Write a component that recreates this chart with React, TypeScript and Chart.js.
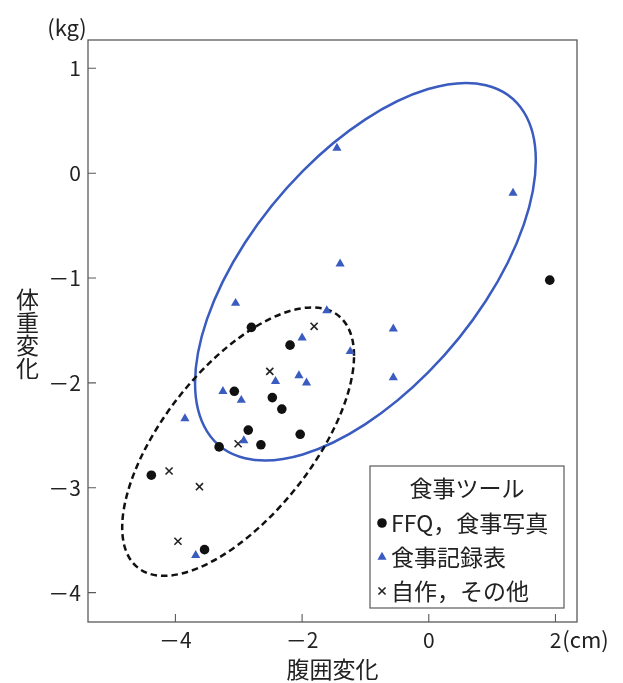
import React, { useEffect, useRef } from "react";
import { Chart, registerables } from "chart.js";
import { drawPoint } from "chart.js/helpers";

Chart.register(...registerables);

const FONT = '"Noto Sans CJK JP", "Noto Sans", sans-serif';
const BLUE = "#3a5bbf";
const INK = "#222222";
const FRAME = "#5a5a5a";

// ---- data ----
const legendTitle = "食事ツール";
const seriesLabels = ["FFQ，食事写真", "食事記録表", "自作，その他"];

const ffqX = [1.91, -2.8, -2.19, -3.07, -2.47, -2.32, -2.85, -2.65, -2.03, -3.31, -4.38, -3.54];
const ffqY = [-1.02, -1.47, -1.64, -2.08, -2.14, -2.25, -2.45, -2.59, -2.49, -2.61, -2.88, -3.59];

const recordX = [-1.45, 1.33, -1.4, -3.05, -1.61, -0.56, -2.0, -1.24, -0.56, -2.05, -1.93, -2.42, -3.25, -2.96, -3.85, -2.92, -3.68];
const recordY = [0.24, -0.19, -0.865, -1.24, -1.31, -1.485, -1.57, -1.7, -1.95, -1.93, -2.0, -1.985, -2.08, -2.165, -2.34, -2.55, -3.645];

const otherX = [-1.81, -2.51, -3.01, -4.1, -3.62, -3.96];
const otherY = [-1.46, -1.89, -2.58, -2.84, -2.99, -3.51];

const xTickValues = [-4, -2, 0, 2];
const yTickValues = [-4, -3, -2, -1, 0, 1];
const xRange = [-5.38, 2.34];
const yRange = [-4.28, 1.27];

const xTitle = "腹囲変化";
const yTitle = "体重変化";
const xUnit = "(cm)";
const yUnit = "(kg)";

// ellipses in data units: centre, half-extent along x, half-extent along y, correlation
const recordEllipse = { cx: -1.0, cy: -0.94, rx: 2.69, ry: 1.8, rho: 0.59 };
const ffqEllipse = { cx: -3.01, cy: -2.56, rx: 1.83, ry: 1.28, rho: 0.64 };

const toPoints = (xs: number[], ys: number[]) => xs.map((x, i) => ({ x, y: ys[i] }));
const tickLabel = (v: number) => (v < 0 ? "－" + Math.abs(v) : String(v));

function strokeEllipse(chart: any, e: any, color: string, dash: number[]) {
  const { ctx, scales } = chart;
  const xs = scales.x;
  const ys = scales.y;
  const cx = xs.getPixelForValue(e.cx);
  const cy = ys.getPixelForValue(e.cy);
  const sx = xs.getPixelForValue(e.cx + e.rx) - cx;
  const sy = ys.getPixelForValue(e.cy + e.ry) - cy;
  ctx.save();
  ctx.beginPath();
  ctx.save();
  ctx.translate(cx, cy);
  ctx.transform(sx, sy * e.rho, 0, sy * Math.sqrt(1 - e.rho * e.rho), 0, 0);
  ctx.arc(0, 0, 1, 0, Math.PI * 2);
  ctx.restore();
  ctx.strokeStyle = color;
  ctx.lineWidth = 2.5;
  ctx.setLineDash(dash);
  ctx.stroke();
  ctx.restore();
}

const decorPlugin = {
  id: "decor",
  beforeDatasetsDraw(chart: any) {
    const { ctx, chartArea: a, scales } = chart;
    const xs = scales.x;
    const ys = scales.y;
    ctx.save();
    ctx.strokeStyle = FRAME;
    ctx.lineWidth = 1.3;
    ctx.strokeRect(a.left, a.top, a.right - a.left, a.bottom - a.top);
    ctx.lineWidth = 1.1;
    ctx.beginPath();
    xs.ticks.forEach((t: any) => {
      const px = xs.getPixelForValue(t.value);
      ctx.moveTo(px, a.bottom);
      ctx.lineTo(px, a.bottom - 8);
    });
    ys.ticks.forEach((t: any) => {
      const py = ys.getPixelForValue(t.value);
      ctx.moveTo(a.left, py);
      ctx.lineTo(a.left + 8, py);
    });
    ctx.stroke();
    ctx.restore();

    strokeEllipse(chart, recordEllipse, BLUE, []);
    strokeEllipse(chart, ffqEllipse, "#111111", [6.5, 4]);
  },
  afterDatasetsDraw(chart: any) {
    const { ctx, chartArea: a } = chart;
    const datasets = chart.data.datasets;
    const bw = 194;
    const bh = 142;
    const bx = a.right - 13 - bw;
    const by = a.bottom - 14 - bh;
    ctx.save();
    ctx.fillStyle = "#ffffff";
    ctx.fillRect(bx, by, bw, bh);
    ctx.strokeStyle = FRAME;
    ctx.lineWidth = 1.2;
    ctx.strokeRect(bx, by, bw, bh);
    ctx.font = `23px ${FONT}`;
    ctx.textBaseline = "middle";
    ctx.textAlign = "center";
    ctx.fillStyle = INK;
    ctx.fillText(legendTitle, bx + bw / 2, by + 22);
    datasets.forEach((ds: any, i: number) => {
      const yy = by + 57 + i * 34;
      ctx.fillStyle = ds.backgroundColor;
      ctx.strokeStyle = ds.borderColor;
      ctx.lineWidth = ds.borderWidth;
      drawPoint(
        ctx,
        { pointStyle: ds.pointStyle, radius: ds.pointRadius, borderWidth: ds.borderWidth, rotation: 0 } as any,
        bx + 12,
        yy
      );
      ctx.fillStyle = INK;
      ctx.textAlign = "left";
      ctx.fillText(ds.label, bx + 21, yy);
    });
    ctx.restore();
  },
  afterDraw(chart: any) {
    const { ctx, scales } = chart;
    ctx.save();
    ctx.fillStyle = INK;
    ctx.textBaseline = "middle";
    // vertical y title
    ctx.font = `23px ${FONT}`;
    ctx.textAlign = "center";
    Array.from(yTitle).forEach((ch, i) => {
      ctx.fillText(ch, 27.5, 299 + i * 23);
    });
    // units
    ctx.font = `22px ${FONT}`;
    ctx.textAlign = "center";
    ctx.fillText(yUnit, 67, 28);
    ctx.font = `21px ${FONT}`;
    const last = xTickValues[xTickValues.length - 1];
    const px = scales.x.getPixelForValue(last) + ctx.measureText(tickLabel(last)).width / 2;
    ctx.font = `22px ${FONT}`;
    ctx.textAlign = "left";
    ctx.fillText(xUnit, px + 1, 640);
    ctx.restore();
  },
};

export default function App() {
  const ref = useRef<HTMLCanvasElement | null>(null);

  useEffect(() => {
    if (!ref.current) return;
    const chart = new Chart(ref.current, {
      type: "scatter",
      data: {
        datasets: [
          {
            label: seriesLabels[0],
            data: toPoints(ffqX, ffqY),
            pointStyle: "circle",
            pointRadius: 4.8,
            backgroundColor: "#111111",
            borderColor: "#111111",
            borderWidth: 0,
            pointBackgroundColor: "#111111",
            pointBorderWidth: 0,
          },
          {
            label: seriesLabels[1],
            data: toPoints(recordX, recordY),
            pointStyle: "triangle",
            pointRadius: 5.3,
            backgroundColor: BLUE,
            borderColor: BLUE,
            borderWidth: 0,
            pointBackgroundColor: BLUE,
            pointBorderWidth: 0,
          },
          {
            label: seriesLabels[2],
            data: toPoints(otherX, otherY),
            pointStyle: "crossRot",
            pointRadius: 5,
            backgroundColor: "#222222",
            borderColor: "#222222",
            borderWidth: 1.6,
            pointBorderColor: "#222222",
            pointBorderWidth: 1.6,
          },
        ] as any,
      },
      options: {
        animation: false,
        responsive: false,
        devicePixelRatio: 1,
        layout: { padding: { top: 40, right: 46, left: 0, bottom: 0 } },
        plugins: { legend: { display: false }, tooltip: { enabled: false } },
        scales: {
          x: {
            type: "linear",
            min: xRange[0],
            max: xRange[1],
            grid: { display: false, drawTicks: false },
            border: { display: false },
            afterBuildTicks: (s: any) => {
              s.ticks = xTickValues.map((v) => ({ value: v }));
            },
            afterFit: (s: any) => {
              s.height = 61;
            },
            ticks: {
              padding: 5,
              maxRotation: 0,
              color: INK,
              font: { family: FONT, size: 21 },
              callback: (v: any) => tickLabel(Number(v)),
            },
            title: {
              display: true,
              text: xTitle,
              color: INK,
              font: { family: FONT, size: 23 },
              padding: { top: 0, bottom: 0 },
            },
          },
          y: {
            type: "linear",
            min: yRange[0],
            max: yRange[1],
            grid: { display: false, drawTicks: false },
            border: { display: false },
            afterBuildTicks: (s: any) => {
              s.ticks = yTickValues.map((v) => ({ value: v }));
            },
            afterFit: (s: any) => {
              s.width = 88;
            },
            ticks: {
              padding: 7,
              color: INK,
              font: { family: FONT, size: 21 },
              callback: (v: any) => tickLabel(Number(v)),
            },
          },
        },
      } as any,
      plugins: [decorPlugin],
    });
    return () => chart.destroy();
  }, []);

  return (
    <div style={{ position: "absolute", left: 0, top: 0, width: 623, height: 683, background: "#fff" }}>
      <canvas ref={ref} width={623} height={683} style={{ display: "block" }} />
    </div>
  );
}
